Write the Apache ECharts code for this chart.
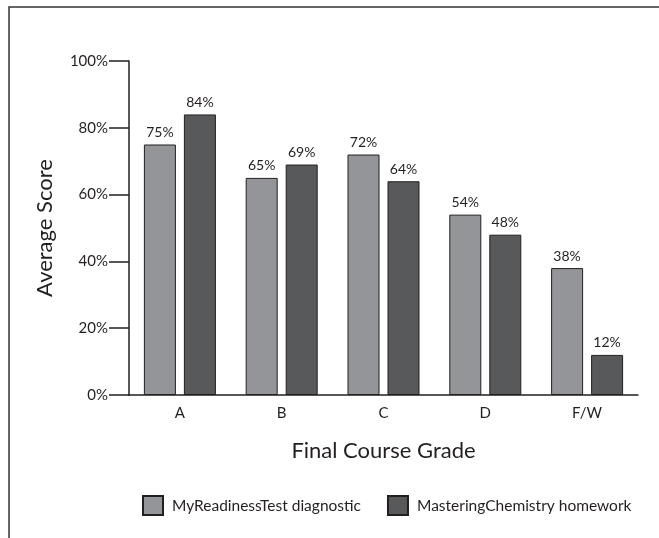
<!DOCTYPE html>
<html>
<head>
<meta charset="utf-8">
<script src="https://cdn.jsdelivr.net/npm/echarts@6/dist/echarts.min.js"></script>
<style>html,body{margin:0;padding:0;background:#fff}#c{width:659px;height:538px}</style>
</head>
<body>
<div id="c"></div>
<script>
const categories = ['A', 'B', 'C', 'D', 'F/W'];
const seriesNames = ['MyReadinessTest diagnostic', 'MasteringChemistry homework'];
const readiness = [75, 65, 72, 54, 38];
const mastering = [84, 69, 64, 48, 12];
const yTicks = [0, 20, 40, 60, 80, 100];

const FONT = 'Lato';
const INK = '#231f20';
const chart = echarts.init(document.getElementById('c'), null, {renderer: 'canvas'});
const labelStyle = {show: true, position: 'top', distance: 5, fontSize: 14, color: INK, fontFamily: FONT, formatter: '{c}%'};
chart.setOption({
  animation: false,
  backgroundColor: '#fff',
  textStyle: {fontFamily: FONT, color: INK},
  graphic: [
    {type: 'polyline', shape: {points: [[9, 538], [9, 7], [659, 7]]}, style: {stroke: '#333', lineWidth: 1.5, fill: null}}
  ],
  grid: {left: 129, right: 21, top: 61, bottom: 143},
  legend: {
    left: 137, top: 490, itemWidth: 20, itemHeight: 19, itemGap: 26, icon: 'rect',
    textStyle: {fontSize: 15.5, color: INK, fontFamily: FONT, padding: [0, 0, 0, 4]},
    data: seriesNames
  },
  xAxis: {
    type: 'category', data: categories,
    name: 'Final Course Grade', nameLocation: 'middle', nameGap: 45,
    nameTextStyle: {fontSize: 22, color: INK, fontFamily: FONT},
    axisLine: {lineStyle: {color: INK, width: 1.5}},
    axisTick: {inside: true, length: 7, lineStyle: {color: INK, width: 1.5}},
    axisLabel: {fontSize: 15, color: INK, margin: 11, fontFamily: FONT}
  },
  yAxis: {
    type: 'value', min: yTicks[0], max: yTicks[yTicks.length - 1], interval: 20,
    name: 'Average Score', nameLocation: 'middle', nameGap: 73,
    nameTextStyle: {fontSize: 22, color: INK, fontFamily: FONT},
    axisLine: {show: true, lineStyle: {color: INK, width: 1.5}},
    axisTick: {show: true, length: 20, lineStyle: {color: INK, width: 1.5}},
    axisLabel: {fontSize: 15, color: INK, margin: 21, formatter: '{value}%', fontFamily: FONT},
    splitLine: {show: false}
  },
  series: [
    {name: seriesNames[0], type: 'bar', data: readiness, barWidth: 32, barGap: '25%',
     itemStyle: {color: '#939598', borderColor: INK, borderWidth: 1}, label: labelStyle},
    {name: seriesNames[1], type: 'bar', data: mastering, barWidth: 32, barGap: '25%',
     itemStyle: {color: '#58595b', borderColor: INK, borderWidth: 1}, label: labelStyle}
  ]
});
</script>
</body>
</html>
